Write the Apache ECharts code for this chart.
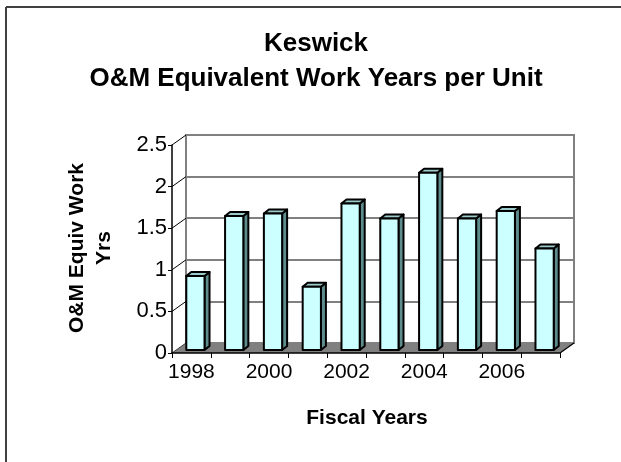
<!DOCTYPE html>
<html>
<head>
<meta charset="utf-8">
<script src="https://cdn.jsdelivr.net/npm/echarts@6/dist/echarts.min.js"></script>
<style>
html,body{margin:0;padding:0;background:#fff;}
#c{width:621px;height:462px;}
</style>
</head>
<body>
<div id="c"></div>
<script>
// ---- data ----
var years = ['1998','1999','2000','2001','2002','2003','2004','2005','2006','2007'];
var workYears = [0.89, 1.61, 1.64, 0.76, 1.76, 1.58, 2.13, 1.58, 1.67, 1.22];
var yTicks = [0, 0.5, 1, 1.5, 2, 2.5];
var titleLines = ['Keswick', 'O&M Equivalent Work Years per Unit'];
var yTitle = 'O&M Equiv Work\nYrs';
var xTitle = 'Fiscal Years';

// ---- style constants ----
var FONT = 'Liberation Sans, Arial, sans-serif';
var DX = 14, DY = 10;          // depth of the 3D box
var BX = 4, BY = 3;            // bar position inside depth
var SX = 5, SY = 4;            // bar own depth
var FRONT = '#CCFFFF', TOPC = '#9CCACA', SIDE = '#5E8C8C';

var chart = echarts.init(document.getElementById('c'), null, {renderer: 'canvas'});

var barData = workYears.map(function (v, i) { return [i, v]; });
var tickData = yTicks.map(function (v) { return [0, v]; });

function renderBar(params, api) {
  var i = api.value(0), v = api.value(1);
  var base = api.coord([i, 0]), top = api.coord([i, v]);
  var band = api.size([1, 0])[0];
  var w = band * 0.47;
  var cx = base[0] + BX, by = base[1] - BY, ty = top[1] - BY;
  var xl = cx - w / 2, xr = cx + w / 2;
  var st = {stroke: '#000', lineWidth: 2, lineJoin: 'round'};
  return {type: 'group', children: [
    {type: 'polygon', shape: {points: [[xr, by], [xr + SX, by - SY], [xr + SX, ty - SY], [xr, ty]]},
     style: Object.assign({fill: SIDE}, st)},
    {type: 'polygon', shape: {points: [[xl, ty], [xl + SX, ty - SY], [xr + SX, ty - SY], [xr, ty]]},
     style: Object.assign({fill: TOPC}, st)},
    {type: 'rect', shape: {x: xl, y: ty, width: w, height: by - ty},
     style: Object.assign({fill: FRONT}, st)}
  ]};
}

function renderSideLine(params, api) {
  var v = api.value(1);
  var p = api.coord([0, v]);
  var band = api.size([1, 0])[0];
  var x0 = p[0] - band / 2;
  return {type: 'line', shape: {x1: x0, y1: p[1], x2: x0 + DX, y2: p[1] - DY},
          style: {stroke: v === 0 ? '#404040' : '#000', lineWidth: 1}};
}

function renderFloor(params, api) {
  var band = api.size([1, 0])[0];
  var l = api.coord([0, 0]), r = api.coord([years.length - 1, 0]);
  var x0 = l[0] - band / 2, x1 = r[0] + band / 2, y = l[1];
  return {type: 'group', children: [
    {type: 'polygon', shape: {points: [[x0, y], [x1, y], [x1 + DX, y - DY], [x0 + DX, y - DY]]},
     style: {fill: '#808080'}},
    {type: 'line', shape: {x1: x1, y1: y, x2: x1 + DX, y2: y - DY},
     style: {stroke: '#000', lineWidth: 1.2}}
  ]};
}

var option = {
  backgroundColor: '#fff',
  animation: false,
  textStyle: {fontFamily: FONT},
  grid: [
    {left: 172, top: 145, width: 388, height: 208, show: false},
    {left: 172 + DX, top: 145 - DY, width: 388, height: 208, show: true,
     borderColor: '#808080', borderWidth: 2, backgroundColor: 'transparent'}
  ],
  xAxis: [
    {type: 'category', gridIndex: 0, data: years, boundaryGap: true,
     axisLine: {lineStyle: {color: '#000', width: 1.5}},
     axisTick: {show: true, interval: 0, length: 5, alignWithLabel: false, lineStyle: {color: '#000', width: 1}},
     axisLabel: {interval: 1, fontSize: 21, color: '#000', margin: 9, fontFamily: FONT},
     splitLine: {show: false}, z: 10},
    {type: 'category', gridIndex: 1, data: years, show: false}
  ],
  yAxis: [
    {type: 'value', gridIndex: 0, min: 0, max: 2.5, interval: 0.5,
     axisLine: {show: true, lineStyle: {color: '#000', width: 1.5}},
     axisTick: {show: true, length: 4, lineStyle: {color: '#000'}},
     axisLabel: {fontSize: 22, color: '#000', margin: 5, fontFamily: FONT},
     splitLine: {show: false}, z: 10},
    {type: 'value', gridIndex: 1, min: 0, max: 2.5, interval: 0.5,
     axisLine: {show: false}, axisTick: {show: false}, axisLabel: {show: false},
     splitLine: {show: true, lineStyle: {color: '#808080', width: 2}}}
  ],
  series: [
    {type: 'custom', name: 'floor', xAxisIndex: 0, yAxisIndex: 0, data: [[0, 0]],
     renderItem: renderFloor, z: 2, silent: true},
    {type: 'custom', name: 'side', xAxisIndex: 0, yAxisIndex: 0, data: tickData,
     renderItem: renderSideLine, z: 3, silent: true},
    {type: 'custom', name: 'O&M Equiv Work Yrs', xAxisIndex: 0, yAxisIndex: 0, data: barData,
     encode: {x: 0, y: 1}, renderItem: renderBar, z: 5}
  ],
  graphic: [
    {type: 'line', shape: {x1: 6, y1: 7, x2: 621, y2: 7}, style: {stroke: '#404040', lineWidth: 2}},
    {type: 'line', shape: {x1: 6, y1: 7, x2: 6, y2: 462}, style: {stroke: '#404040', lineWidth: 2}},
    {type: 'text', x: 316, y: 44, style: {text: titleLines[0], font: 'bold 26px ' + FONT,
      fill: '#000', textAlign: 'center', textVerticalAlign: 'middle'}},
    {type: 'text', x: 316, y: 79, style: {text: titleLines[1], font: 'bold 26px ' + FONT,
      fill: '#000', textAlign: 'center', textVerticalAlign: 'middle'}},
    {type: 'text', x: 91, y: 248, rotation: Math.PI / 2,
     style: {text: yTitle, font: 'bold 21px ' + FONT, fill: '#000', textAlign: 'center',
      textVerticalAlign: 'middle', lineHeight: 27}},
    {type: 'text', x: 367, y: 418, style: {text: xTitle, font: 'bold 21px ' + FONT,
      fill: '#000', textAlign: 'center', textVerticalAlign: 'middle'}}
  ]
};
chart.setOption(option);
</script>
</body>
</html>
